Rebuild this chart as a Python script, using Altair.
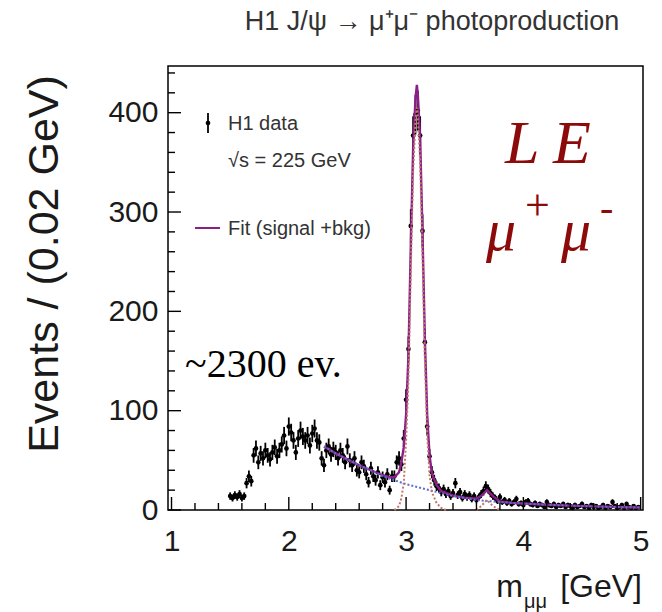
import altair as alt
import pandas as pd

# H1 dimuon invariant-mass spectrum, 0.02 GeV bins starting at 1.50 GeV
BIN_START = 1.50
BIN_WIDTH = 0.02
counts = [
    14, 12, 15, 13, 16,
    12, 14, 27, 34, 29,
    55, 62, 48, 57, 52,
    60, 55, 51, 58, 63,
    54, 60, 66, 75, 62,
    84, 78, 70, 58, 72,
    80, 74, 70, 75, 65,
    77, 82, 70, 68, 52,
    45, 60, 64, 56, 61,
    58, 52, 60, 55, 48,
    64, 50, 45, 52, 40,
    38, 48, 44, 36, 28,
    42, 34, 30, 38, 25,
    33, 28, 36, 20, 34,
    34, 48, 52, 46, 72,
    111, 162, 286, 377, 398,
    402, 377, 281, 169, 84,
    54, 38, 30, 24, 22,
    18, 21, 16, 19, 14,
    17, 27, 15, 18, 12,
    16, 13, 15, 11, 14,
    10, 13, 16, 19, 24,
    21, 17, 14, 12, 9,
    13, 8, 10, 7, 9,
    6, 8, 11, 6, 7,
    5, 8, 9, 6, 5,
    7, 4, 6, 5, 3,
    8, 5, 4, 6, 3,
    5, 4, 6, 3, 5,
    4, 2, 5, 3, 4,
    6, 3, 4, 2, 5,
    3, 4, 2, 3, 5,
    2, 4, 3, 8, 4,
    2, 3, 5, 2, 6,
    3, 2, 4, 2, 3,
]
mass = [round(BIN_START + BIN_WIDTH * i, 2) for i in range(len(counts))]

# Fit: signal + background (solid)
fit_m = [2.30, 2.40, 2.50, 2.60, 2.70, 2.80, 2.86, 2.90, 2.94, 2.96, 2.98,
         3.00, 3.02, 3.04, 3.06, 3.08, 3.092, 3.10, 3.12, 3.14, 3.16, 3.18,
         3.20, 3.22, 3.26, 3.30, 3.40, 3.50, 3.60, 3.64, 3.69, 3.74, 3.80,
         3.90, 4.00, 4.20, 4.40, 4.60, 4.80, 5.00]
fit_n = [64, 57, 51, 45, 40, 35, 33, 33, 38, 48, 63,
         96, 155, 265, 364, 414, 428, 418, 374, 278, 173, 95,
         55, 37, 25, 19, 14.5, 12.5, 11.5, 14, 20, 14, 8.5,
         7.2, 6.5, 5.3, 4.4, 3.6, 3.0, 2.5]

# Background component (dotted)
bkg_m = [2.30, 2.40, 2.50, 2.60, 2.70, 2.80, 2.90, 3.00, 3.10, 3.20, 3.30,
         3.40, 3.50, 3.60, 3.70, 3.80, 4.00, 4.20, 4.40, 4.60, 4.80, 5.00]
bkg_n = [64, 57, 51, 45, 40, 34, 30, 26, 23, 20, 17,
         14, 12, 10, 9, 8, 6.5, 5.3, 4.4, 3.6, 3.0, 2.5]

# Signal components (dotted): J/psi and psi(2S)
jpsi_m = [2.90, 2.94, 2.96, 2.98, 3.00, 3.02, 3.04, 3.06, 3.08, 3.092, 3.10,
          3.12, 3.14, 3.16, 3.18, 3.20, 3.22, 3.26, 3.30, 3.34]
jpsi_n = [0, 4, 12, 27, 70, 130, 240, 340, 391, 405, 395,
          351, 256, 152, 75, 35, 18, 7, 2, 0]
psi2s_m = [3.60, 3.64, 3.69, 3.74, 3.80]
psi2s_n = [0, 4, 10, 4, 0]

x_major = [1, 2, 3, 4, 5]
x_minor = [1.2, 1.4, 1.6, 1.8, 2.2, 2.4, 2.6, 2.8, 3.2, 3.4, 3.6, 3.8,
           4.2, 4.4, 4.6, 4.8]
y_major = [0, 100, 200, 300, 400]
y_minor = [20, 40, 60, 80, 120, 140, 160, 180, 220, 240, 260, 280,
           320, 340, 360, 380, 420, 440]

W, H = 475, 444
SANS = "Liberation Sans"
SERIF = "Liberation Serif"
RED = "#8c0a0a"
FIT = "#8b1f86"

xscale = alt.Scale(domain=[0.97, 5.02], nice=False, zero=False)
yscale = alt.Scale(domain=[0, 447], nice=False)
xaxis = alt.Axis(values=x_major, ticks=False, domain=False, grid=False,
                 labelFontSize=30, labelPadding=16, labelFlush=False,
                 labelFont=SANS, labelColor="#1a1a1a", title=None)
yaxis = alt.Axis(values=y_major, ticks=False, domain=False, grid=False,
                 labelFontSize=30, labelPadding=10, labelFont=SANS,
                 labelColor="#1a1a1a", title=None)


def X(field):
    return alt.X(f"{field}:Q", scale=xscale, axis=xaxis)


def Y(field):
    return alt.Y(f"{field}:Q", scale=yscale, axis=yaxis)


data = pd.DataFrame({"m": mass, "n": counts})
fit = pd.DataFrame({"m": fit_m, "n": fit_n})
bkg = pd.DataFrame({"m": bkg_m, "n": bkg_n})
sig = pd.DataFrame({
    "m": jpsi_m + psi2s_m,
    "n": jpsi_n + psi2s_n,
    "comp": ["jpsi"] * len(jpsi_m) + ["psi2s"] * len(psi2s_m),
})

errbars = (
    alt.Chart(data)
    .transform_calculate(lo="datum.n - sqrt(datum.n)", hi="datum.n + sqrt(datum.n)")
    .mark_rule(color="black", strokeWidth=1.8)
    .encode(x=X("m"), y=Y("lo"), y2="hi:Q")
)
points = alt.Chart(data).mark_circle(color="black", size=22, opacity=1).encode(x=X("m"), y=Y("n"))

fit_line = alt.Chart(fit).mark_line(color=FIT, strokeWidth=2.4).encode(x=X("m"), y=Y("n"))
bkg_line = alt.Chart(bkg).mark_line(color="#5b6fd6", strokeWidth=2, strokeDash=[2, 2]).encode(
    x=X("m"), y=Y("n"))
sig_line = alt.Chart(sig).mark_line(color="#c07a6a", strokeWidth=2, strokeDash=[2, 2]).encode(
    x=X("m"), y=Y("n"), detail="comp:N")

# tick marks pointing into the frame
xt_major = alt.Chart(pd.DataFrame({"t": x_major})).mark_rule(color="black", strokeWidth=1.4).encode(
    x=X("t"), y=alt.value(H), y2=alt.value(H - 13))
xt_minor = alt.Chart(pd.DataFrame({"t": x_minor})).mark_rule(color="black", strokeWidth=1.4).encode(
    x=X("t"), y=alt.value(H), y2=alt.value(H - 7))
yt_major = alt.Chart(pd.DataFrame({"t": y_major})).mark_rule(color="black", strokeWidth=1.4).encode(
    y=Y("t"), x=alt.value(0), x2=alt.value(13))
yt_minor = alt.Chart(pd.DataFrame({"t": y_minor})).mark_rule(color="black", strokeWidth=1.4).encode(
    y=Y("t"), x=alt.value(0), x2=alt.value(7))

one = pd.DataFrame({"k": [0]})


def label(text, x, y, size, font=SANS, color="#333333", align="left",
          baseline="alphabetic", style="normal", angle=None):
    kw = dict(text=text, fontSize=size, font=font, color=color, align=align,
              baseline=baseline, fontStyle=style)
    if angle is not None:
        kw["angle"] = angle
    return alt.Chart(one).mark_text(**kw).encode(x=alt.value(x), y=alt.value(y))


title = label("H1 J/\u03c8 \u2192 \u03bc\u207a\u03bc\u207b photoproduction", 264, -36, 27,
              align="center")
ytitle = label("Events / (0.02 GeV)", -123, 198, 43, color="#1a1a1a", align="center",
               baseline="middle", angle=270)
xt_m = label("m", 355, 531, 32, color="#1a1a1a", align="right")
xt_sub = label("\u03bc\u03bc", 356, 542, 20, color="#1a1a1a")
xt_unit = label("[GeV]", 474, 531, 32, color="#1a1a1a", align="right")

# legend
leg_bar = alt.Chart(one).mark_rule(color="black", strokeWidth=1.8).encode(
    x=alt.value(40), y=alt.value(47), y2=alt.value(67))
leg_dot = alt.Chart(one).mark_circle(color="black", size=22, opacity=1).encode(
    x=alt.value(40), y=alt.value(57))
leg_data = label("H1 data", 60, 64, 20)
leg_rs = label("\u221as = 225 GeV", 60, 101, 20)
leg_line = alt.Chart(one).mark_rule(color=FIT, strokeWidth=2).encode(
    x=alt.value(27), x2=alt.value(52), y=alt.value(162))
leg_fit = label("Fit (signal +bkg)", 60, 169, 20)

# annotations
ann_L = label("L", 337, 97, 62, font=SERIF, color=RED, style="italic")
ann_E = label("E", 385, 97, 62, font=SERIF, color=RED, style="italic")
ann_mu1 = label("\u03bc", 318, 184, 60, font=SERIF, color=RED, style="italic")
ann_plus = label("+", 357, 154, 44, font=SERIF, color=RED)
ann_mu2 = label("\u03bc", 393, 184, 60, font=SERIF, color=RED, style="italic")
ann_minus = label("-", 432, 155, 40, font=SERIF, color=RED)
ann_ev = label("~2300 ev.", 17, 311, 40, font=SERIF, color="black")

chart = alt.layer(
    errbars, points, fit_line, bkg_line, sig_line,
    xt_major, xt_minor, yt_major, yt_minor,
    title, ytitle, xt_m, xt_sub, xt_unit,
    leg_bar, leg_dot, leg_data, leg_rs, leg_line, leg_fit,
    ann_L, ann_E, ann_mu1, ann_plus, ann_mu2, ann_minus, ann_ev,
).properties(
    width=W, height=H,
    autosize=alt.AutoSizeParams(type="none"),
    padding={"left": 168, "top": 66, "right": 19, "bottom": 102},
    background="white",
).configure_view(stroke="black", strokeWidth=1.5)

chart.save("out.html", embed_options={"renderer": "svg", "actions": False})
